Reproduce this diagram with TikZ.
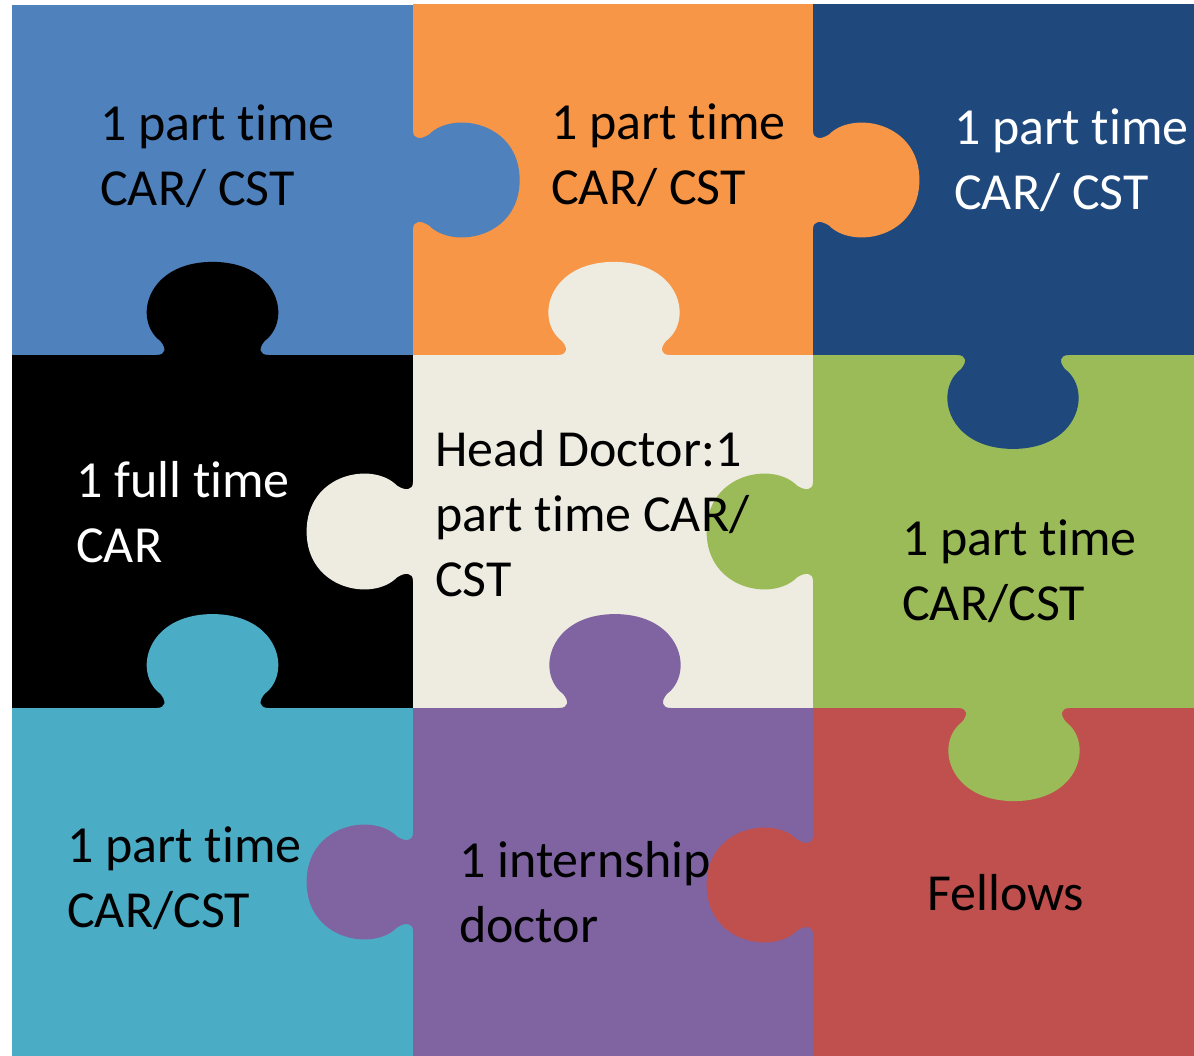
\documentclass[tikz,border=0pt]{standalone}
\usepackage{fontspec}
\setmainfont{Carlito}[Ligatures={NoCommon}]
\definecolor{pblue}{HTML}{4F81BD}
\definecolor{porange}{HTML}{F79646}
\definecolor{pnavy}{HTML}{1F497D}
\definecolor{pblack}{HTML}{000000}
\definecolor{pbeige}{HTML}{EEECE1}
\definecolor{pgreen}{HTML}{9BBB59}
\definecolor{pcyan}{HTML}{4BACC6}
\definecolor{ppurple}{HTML}{8064A2}
\definecolor{pred}{HTML}{C0504D}
\newcommand{\tabpath}{(-0.14,0) .. controls (-0.115,0) and (-0.115,0.02) .. (-0.13,0.04) .. controls (-0.20,0.10) and (-0.165,0.266) .. (0,0.266) .. controls (0.165,0.266) and (0.20,0.10) .. (0.13,0.04) .. controls (0.115,0.02) and (0.115,0) .. (0.14,0) -- (0.14,-0.01) -- (-0.14,-0.01) -- cycle}
\tikzset{
  lbl/.style={inner sep=0pt, align=left, anchor=base west, font=\fontsize{52}{65}\selectfont},
}
\begin{document}
\begin{tikzpicture}[x=1pt,y=1pt]
\useasboundingbox (0,0) rectangle (1194,-1056);
\fill[white] (0,0) rectangle (1194,-1056);
% pieces
\fill[pblue]   (12,-5)    rectangle (413,-355);
\fill[porange] (413,-4)   rectangle (813,-355);
\fill[pnavy]   (813,-4)   rectangle (1194,-355);
\fill[pblack]  (12,-355)  rectangle (413,-708);
\fill[pbeige]  (413,-355) rectangle (813,-708);
\fill[pgreen]  (813,-355) rectangle (1194,-708);
\fill[pcyan]   (12,-708)  rectangle (413,-1056);
\fill[ppurple] (413,-708) rectangle (813,-1056);
\fill[pred]    (813,-708) rectangle (1194,-1056);
% tabs
\fill[pblue,   cm={0,-350,401,0,(413,-180)}] \tabpath;
\fill[porange, cm={0,-350,400,0,(813,-180)}] \tabpath;
\fill[pbeige,  cm={0,-353,-400,0,(413,-531.5)}] \tabpath;
\fill[pgreen,  cm={0,-353,-400,0,(813,-531.5)}] \tabpath;
\fill[ppurple, cm={0,-350,-400,0,(413,-882)}] \tabpath;
\fill[pred,    cm={0,-350,-400,0,(813,-885)}] \tabpath;
\fill[pblack,  cm={401,0,0,350,(212.5,-355)}] \tabpath;
\fill[pbeige,  cm={400,0,0,350,(614,-355)}] \tabpath;
\fill[pnavy,   cm={400,0,0,-353,(1013,-355)}] \tabpath;
\fill[pcyan,   cm={401,0,0,353,(212.5,-708)}] \tabpath;
\fill[ppurple, cm={400,0,0,353,(615,-708)}] \tabpath;
\fill[pgreen,  cm={400,0,0,-350,(1014,-708)}] \tabpath;
% labels (anchor = baseline of last line)
\node[lbl, text=black] (t1) at (100,-206) {1 part time\\CAR/ CST};
\node[lbl, text=black] (t2) at (551,-205) {1 part time\\CAR/ CST};
\node[lbl, text=white] (t3) at (954,-210) {1 part time\\CAR/ CST};
\node[lbl, text=white] (t4) at (76,-562) {1 full time\\CAR};
\node[lbl, text=black] (t5) at (435,-596) {Head Doctor:1\\part time CAR/\\CST};
\node[lbl, text=black] (t6) at (902,-620) {1 part time\\CAR/CST};
\node[lbl, text=black] (t7) at (67,-927) {1 part time\\CAR/CST};
\node[lbl, text=black] (t8) at (459,-942) {1 internship\\doctor};
\node[lbl, text=black] (t9) at (927,-910) {Fellows};
\end{tikzpicture}
\end{document}
